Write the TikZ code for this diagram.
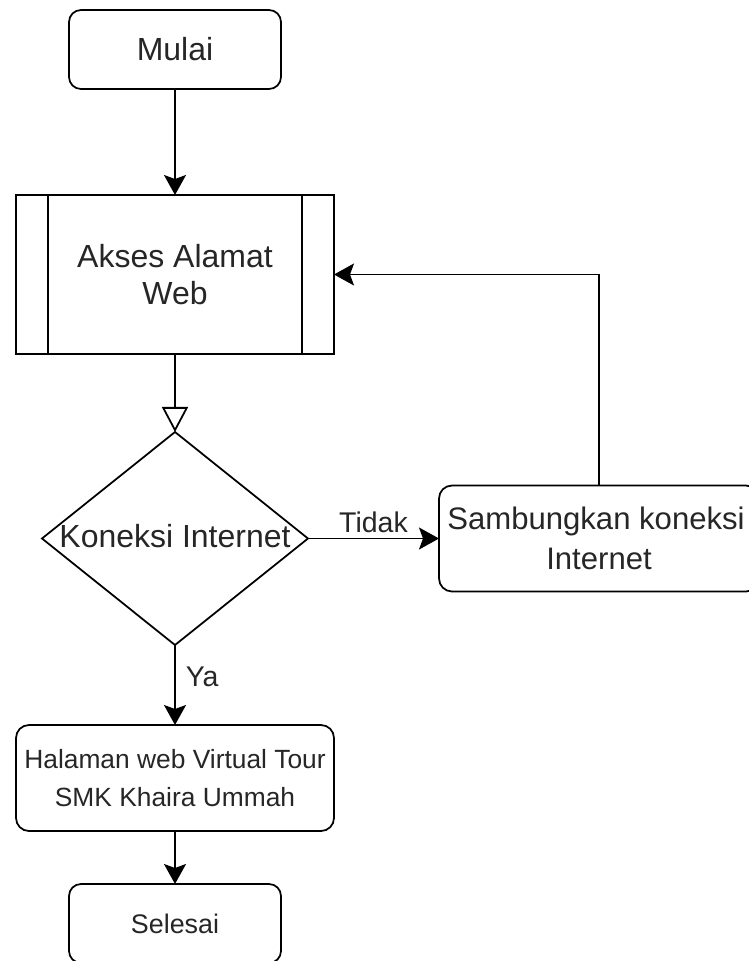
\documentclass[tikz,border=0pt]{standalone}
\usepackage{fontspec}
\setmainfont{Liberation Sans}
\usetikzlibrary{arrows.meta,positioning,shapes.geometric}

\begin{document}
\begin{tikzpicture}[
  font=\fontsize{18.2}{21.5}\selectfont,
  line width=1pt,
  every node/.style={outer sep=0pt, text=black!85},
  term/.style={draw, rounded corners=0.24cm, align=center, minimum width=4.24cm, minimum height=1.58cm, inner sep=0pt},
  proc/.style={draw, rounded corners=0.26cm, align=center, minimum width=6.36cm, minimum height=2.12cm, inner sep=0pt},
  subproc/.style={draw, align=center, minimum width=6.36cm, minimum height=3.18cm, inner sep=0pt},
  decide/.style={draw, diamond, minimum width=5.32cm, minimum height=4.26cm, inner sep=0pt},
  lbl/.style={font=\fontsize{16.2}{19}\selectfont},
  arr/.style={-{Stealth[length=0.4cm, width=0.44cm, inset=0.08cm]}},
  arro/.style={-{Triangle[open, length=0.5cm, width=0.52cm]}}
]
\useasboundingbox (0,0) rectangle (14.98,-19.22);
\node[term] (mulai) at (3.5,-0.99) {Mulai};
\node[subproc, below=2.12cm of mulai] (akses) {Akses Alamat\\Web};
\draw ([xshift=0.64cm]akses.north west) -- ([xshift=0.64cm]akses.south west);
\draw ([xshift=-0.64cm]akses.north east) -- ([xshift=-0.64cm]akses.south east);
\node[decide, below=1.56cm of akses] (cek) {\raisebox{0.12cm}{\makebox[0pt]{Koneksi Internet}}};
\node[proc, right=2.62cm of cek, minimum width=6.4cm, font=\fontsize{17.7}{23}\selectfont] (samb) {\hspace*{-0.12cm}Sambungkan koneksi\\Internet};
\node[proc, below=1.6cm of cek, font=\fontsize{15}{21.5}\selectfont] (hal) {Halaman web Virtual Tour\\SMK Khaira Ummah};
\node[term, below=1.06cm of hal, font=\fontsize{15.3}{18}\selectfont] (selesai) {Selesai};
\draw[arr] (mulai) -- (akses);
\draw[arro] (akses) -- (cek);
\draw[arr] (cek) -- node[lbl, above] {Tidak} (samb);
\draw[arr] (samb.north) |- (akses.east);
\draw[arr] (cek) -- node[lbl, right, pos=0.4, xshift=0.1cm] {Ya} (hal);
\draw[arr] (hal) -- (selesai);
\end{tikzpicture}
\end{document}
